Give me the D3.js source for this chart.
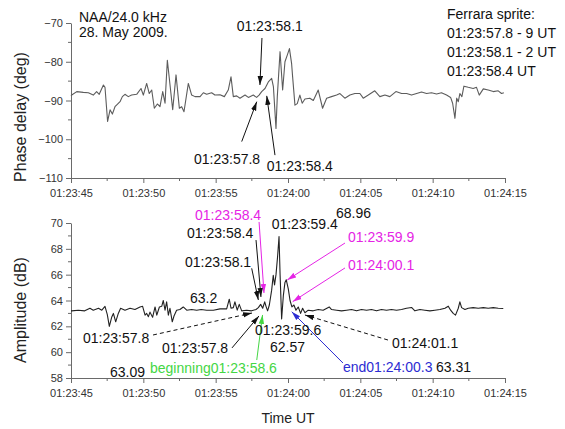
<!DOCTYPE html>
<html>
<head>
<meta charset="utf-8">
<script src="https://cdn.jsdelivr.net/npm/d3@7"></script>
<style>
  body { margin: 0; background: #fff; }
  svg { display: block; font-family: "Liberation Sans", Arial, sans-serif; }
  .axis path, .axis line { stroke: #6a6a6a; }
  .axis text { fill: #333; font-size: 11px; font-family: "Liberation Sans", Arial, sans-serif; }
  .note { font-size: 14px; }
</style>
</head>
<body>
<svg id="chart" width="565" height="429"></svg>
<script>
// time is seconds after 01:23:00 UT
var xTicks = [45, 50, 55, 60, 65, 70, 75];
var xTickLabels = ["01:23:45", "01:23:50", "01:23:55", "01:24:00", "01:24:05", "01:24:10", "01:24:15"];
var phaseTicks = [-110, -100, -90, -80, -70];
var ampTicks = [58, 60, 62, 64, 66, 68, 70];

var phaseTime = [45.0, 45.05, 45.4, 45.85, 46.2, 46.54, 46.77, 46.95, 47.24, 47.35, 47.53, 47.7, 47.86, 48.04, 48.2,
  48.39, 48.55, 48.73, 48.96, 49.19, 49.54, 49.84, 50.0, 50.23, 50.41, 50.58, 50.76, 50.97, 51.15, 51.34, 51.5,
  51.66, 52.03, 52.26, 52.49, 52.65, 52.81, 53.11, 53.34, 53.57, 53.92, 54.15, 54.38, 54.72, 54.95, 55.3, 55.6,
  55.87, 56.06, 56.22, 56.45, 56.68, 57.03, 57.26, 57.6, 57.83, 58.0, 58.18, 58.41, 58.64, 58.87, 58.99, 59.17,
  59.26, 59.45, 59.63, 59.79, 59.95, 60.1, 60.25, 60.32, 60.48, 60.64, 60.82, 60.98, 61.17, 61.51, 61.75, 62.09,
  62.39, 62.67, 63.01, 63.36, 63.59, 63.93, 64.28, 64.62, 64.97, 65.2, 65.55, 66.0, 66.35, 66.7, 67.04, 67.46,
  67.85, 68.2, 68.54, 68.89, 69.23, 69.58, 69.92, 70.27, 70.61, 70.96, 71.24, 71.38, 71.54, 71.66, 71.77, 71.88,
  72.02, 72.16, 72.46, 72.8, 73.03, 73.22, 73.5, 73.84, 74.19, 74.53, 74.76, 74.92];
var phaseDeg = [-88.8, -88.6, -87.7, -87.9, -88.0, -88.6, -87.7, -88.4, -86.0, -86.6, -95.4, -92.4, -93.5, -91.6, -91.0,
  -90.3, -89.0, -88.4, -89.0, -88.6, -88.4, -86.9, -88.6, -85.6, -88.2, -87.3, -92.0, -90.9, -91.6, -87.7, -90.7,
  -79.6, -92.4, -83.4, -92.0, -91.6, -92.9, -85.6, -88.6, -89.0, -89.0, -88.0, -88.4, -88.0, -88.6, -88.5, -89.0,
  -87.3, -83.9, -89.0, -88.8, -89.4, -88.6, -89.2, -88.6, -89.2, -88.6, -87.7, -86.9, -85.2, -84.3, -86.4, -97.2,
  -89.0, -77.4, -87.3, -80.0, -78.3, -76.6, -80.5, -83.9, -91.2, -90.8, -88.6, -90.7, -89.6, -89.4, -90.0, -87.3,
  -92.0, -89.4, -89.0, -88.6, -88.2, -89.4, -88.6, -88.2, -88.2, -89.4, -88.6, -87.5, -89.0, -88.6, -89.0, -87.7,
  -88.2, -88.2, -88.6, -88.2, -87.8, -88.2, -88.0, -88.3, -88.0, -88.6, -89.2, -90.7, -94.6, -89.4, -90.3, -88.2,
  -89.0, -86.3, -86.6, -86.9, -86.6, -88.6, -87.0, -87.3, -87.7, -87.5, -88.2, -88.0];

var ampTime = [45.0, 45.05, 45.5, 45.95, 46.31, 46.54, 46.9, 47.13, 47.35, 47.51, 47.65, 47.81, 47.93, 48.09, 48.27,
  48.43, 48.73, 49.08, 49.42, 49.77, 49.95, 50.12, 50.23, 50.35, 50.46, 50.64, 50.81, 50.93, 51.11, 51.27, 51.38,
  51.5, 51.61, 51.73, 51.84, 52.0, 52.12, 52.3, 52.53, 52.76, 53.0, 53.34, 53.69, 54.0, 54.38, 54.84, 55.3, 55.76,
  55.94, 56.06, 56.22, 56.33, 56.49, 56.63, 56.8, 57.14, 57.48, 57.79, 57.95, 58.11, 58.25, 58.39, 58.48, 58.59,
  58.71, 58.87, 58.98, 59.07, 59.17, 59.28, 59.38, 59.45, 59.56, 59.68, 59.79, 59.88, 60.02, 60.14, 60.27, 60.41,
  60.55, 60.71, 60.87, 61.01, 61.17, 61.4, 61.74, 62.09, 62.43, 62.85, 63.01, 63.36, 63.7, 64.05, 64.39, 64.74,
  65.08, 65.43, 65.77, 66.12, 66.46, 66.81, 67.15, 67.5, 67.85, 68.19, 68.54, 68.77, 69.12, 69.46, 69.81, 70.15,
  70.5, 70.85, 71.08, 71.24, 71.42, 71.58, 71.77, 71.88, 72.0, 72.23, 72.46, 72.8, 73.15, 73.5, 73.84, 74.19,
  74.53, 74.88];
var ampDb = [63.2, 63.2, 63.25, 63.2, 63.4, 63.25, 63.4, 63.25, 63.55, 62.9, 62.0, 62.7, 63.0, 62.35, 63.0,
  63.4, 63.25, 63.4, 63.3, 63.5, 63.55, 62.87, 63.0, 62.75, 63.1, 62.7, 63.5, 62.87, 63.5, 63.55, 64.0,
  63.25, 63.9, 62.87, 63.4, 62.35, 62.8, 63.25, 63.3, 63.5, 63.25, 63.3, 63.25, 63.3, 63.25, 63.25, 63.35, 63.35,
  64.1, 63.4, 63.45, 63.9, 63.25, 63.7, 63.2, 63.25, 63.2, 63.3, 63.45, 63.7, 63.4, 63.9, 63.55, 63.2,
  63.65, 64.8, 65.95, 65.2, 66.0, 67.4, 68.96, 66.1, 62.57, 64.4, 65.4, 65.6, 64.9, 64.0, 63.5, 63.65,
  63.25, 63.5, 63.0, 63.4, 63.05, 63.25, 63.2, 63.3, 63.25, 63.5, 63.3, 63.25, 63.2, 63.25, 63.3, 63.2,
  63.3, 63.25, 63.3, 63.2, 63.3, 63.25, 63.3, 63.25, 63.3, 63.4, 63.46, 63.2, 63.3, 63.25, 63.2, 63.25,
  63.3, 63.4, 63.56, 63.25, 63.0, 62.87, 63.4, 63.9, 63.45, 63.3, 63.4, 63.45, 63.4, 63.45, 63.4, 63.45,
  63.4, 63.38];

// labels, placed in data units (t = seconds, v = panel value); arrows run from (fromT, fromV) to (tipT, tipV)
var phaseNotes = [
  {text: "NAA/24.0 kHz", t: 45.55, v: -69.7},
  {text: "28. May 2009.", t: 45.55, v: -73.6},
  {text: "Ferrara sprite:", t: 70.99, v: -68.84},
  {text: "01:23:57.8 - 9 UT", t: 70.99, v: -73.82},
  {text: "01:23:58.1 - 2 UT", t: 70.99, v: -78.8},
  {text: "01:23:58.4 UT", t: 70.99, v: -83.78},
  {text: "01:23:58.1", t: 56.45, v: -72.06, fromT: 58.2, fromV: -73.87, tipT: 58.06, tipV: -86.0},
  {text: "01:23:57.8", t: 53.5, v: -106.4, fromT: 56.8, fromV: -100.6, tipT: 57.84, tipV: -90.3},
  {text: "01:23:58.4", t: 58.53, v: -108.2, fromT: 59.1, fromV: -104.1, tipT: 58.53, tipV: -88.8}
];
var ampNotes = [
  {text: "01:23:58.4", kind: "sprite", t: 53.57, v: 70.23, fromT: 58.0, fromV: 70.08, tipT: 58.34, tipV: 64.58},
  {text: "01:23:58.4", t: 53.02, v: 68.84, fromT: 57.79, fromV: 68.68, tipT: 58.13, tipV: 64.27},
  {text: "01:23:58.1", t: 52.88, v: 66.59, fromT: 57.49, fromV: 66.49, tipT: 57.95, tipV: 64.04},
  {text: "63.2", t: 53.23, v: 63.81},
  {text: "01:23:57.8", t: 45.83, v: 60.71, fromT: 50.67, fromV: 61.33, tipT: 57.51, tipV: 63.03, dashed: true},
  {text: "01:23:57.8", t: 51.29, v: 59.94, fromT: 56.13, fromV: 60.33, tipT: 57.99, tipV: 62.8},
  {text: "beginning01:23:58.6", kind: "begin", t: 50.46, v: 58.39, fromT: 57.84, fromV: 59.39, tipT: 58.24, tipV: 62.88},
  {text: "63.09", t: 47.7, v: 58.08},
  {text: "01:23:59.4", t: 58.87, v: 69.54},
  {text: "68.96", t: 63.32, v: 70.39},
  {text: "01:23:59.9", kind: "sprite", t: 64.15, v: 68.53, fromT: 63.94, fromV: 68.45, tipT: 59.95, tipV: 65.59},
  {text: "01:24:00.1", kind: "sprite", t: 64.15, v: 66.36, fromT: 63.94, fromV: 66.52, tipT: 60.32, tipV: 63.91},
  {text: "01:23:59.6", t: 57.72, v: 61.33},
  {text: "62.57", t: 58.76, v: 60.05},
  {text: "01:24:01.1", t: 67.19, v: 60.33, fromT: 66.91, fromV: 60.94, tipT: 61.17, tipV: 62.88, dashed: true},
  {text: "end01:24:00.3", kind: "end", t: 63.8, v: 58.5, fromT: 63.8, fromV: 59.16, tipT: 60.26, tipV: 63.13},
  {text: "63.31", t: 70.23, v: 58.46}
];

var svg = d3.select('#chart');
var x = d3.scaleLinear().domain([45, 75]).range([71, 505]);
var yPhase = d3.scaleLinear().domain([-110, -70]).range([178, 23]);
var yAmp = d3.scaleLinear().domain([58, 70]).range([378, 223]);

var noteColors = {plain: '#111', sprite: '#e524e5', begin: '#44d644', end: '#2c2cd2'};

// arrow heads, one per colour
var defs = svg.append('defs');
Object.keys(noteColors).forEach(function(k) {
  defs.append('marker')
    .attr('id', 'head-' + k)
    .attr('markerUnits', 'userSpaceOnUse')
    .attr('viewBox', '0 0 10 6')
    .attr('markerWidth', 9).attr('markerHeight', 6)
    .attr('refX', 10).attr('refY', 3)
    .attr('orient', 'auto')
    .append('path')
    .attr('d', 'M0,0L10,3L0,6Z')
    .attr('fill', noteColors[k]);
});

/**
 * Draws one panel: axes with minor ticks, the trace and its notes.
 */
function drawPanel(y, times, values, yTicks, lineColor, notes) {
  var yBottom = y.range()[0];
  var g = svg.append('g');

  g.append('g')
    .attr('class', 'axis')
    .attr('transform', 'translate(0,' + yBottom + ')')
    .call(d3.axisBottom(x)
      .tickValues(xTicks)
      .tickFormat(function(d, i) { return xTickLabels[i]; })
      .tickSize(5).tickSizeOuter(0).tickPadding(6));

  g.append('g')
    .attr('class', 'axis')
    .attr('transform', 'translate(' + x.range()[0] + ',0)')
    .call(d3.axisLeft(y)
      .tickValues(yTicks)
      .tickSize(5).tickSizeOuter(0).tickPadding(3));

  // minor ticks halfway between the majors
  var xMinor = d3.pairs(xTicks).map(function(p) { return (p[0] + p[1]) / 2; });
  var yMinor = d3.pairs(yTicks).map(function(p) { return (p[0] + p[1]) / 2; });
  g.selectAll('.xminor').data(xMinor).enter().append('line')
    .attr('x1', x).attr('x2', x)
    .attr('y1', yBottom).attr('y2', yBottom + 3)
    .attr('stroke', '#6a6a6a');
  g.selectAll('.yminor').data(yMinor).enter().append('line')
    .attr('x1', x.range()[0]).attr('x2', x.range()[0] - 3)
    .attr('y1', y).attr('y2', y)
    .attr('stroke', '#6a6a6a');

  var line = d3.line()
    .x(function(d) { return x(d[0]); })
    .y(function(d) { return y(d[1]); });
  g.append('path')
    .datum(d3.zip(times, values))
    .attr('d', line)
    .attr('fill', 'none')
    .attr('stroke', lineColor)
    .attr('stroke-width', 1.1)
    .attr('stroke-linejoin', 'round');

  var arrows = notes.filter(function(d) { return d.tipT !== undefined; });
  g.selectAll('.arrow').data(arrows).enter().append('line')
    .attr('class', 'arrow')
    .attr('x1', function(d) { return x(d.fromT); })
    .attr('y1', function(d) { return y(d.fromV); })
    .attr('x2', function(d) { return x(d.tipT); })
    .attr('y2', function(d) { return y(d.tipV); })
    .attr('stroke', function(d) { return noteColors[d.kind || 'plain']; })
    .attr('stroke-width', 1)
    .attr('stroke-dasharray', function(d) { return d.dashed ? '4,3' : null; })
    .attr('marker-end', function(d) { return 'url(#head-' + (d.kind || 'plain') + ')'; });

  g.selectAll('.note').data(notes).enter().append('text')
    .attr('class', 'note')
    .attr('x', function(d) { return x(d.t); })
    .attr('y', function(d) { return y(d.v); })
    .attr('fill', function(d) { return noteColors[d.kind || 'plain']; })
    .text(function(d) { return d.text; });
}

drawPanel(yPhase, phaseTime, phaseDeg, phaseTicks, '#5c5c5c', phaseNotes);
drawPanel(yAmp, ampTime, ampDb, ampTicks, '#222', ampNotes);

// axis titles
svg.append('text')
  .attr('transform', 'translate(26,117) rotate(-90)')
  .attr('text-anchor', 'middle')
  .attr('font-size', 16).attr('fill', '#222')
  .text('Phase delay (deg)');
svg.append('text')
  .attr('transform', 'translate(26,310) rotate(-90)')
  .attr('text-anchor', 'middle')
  .attr('font-size', 16).attr('fill', '#222')
  .text('Amplitude (dB)');
svg.append('text')
  .attr('x', 288).attr('y', 423)
  .attr('text-anchor', 'middle')
  .attr('font-size', 14).attr('fill', '#222')
  .text('Time UT');
</script>
</body>
</html>
